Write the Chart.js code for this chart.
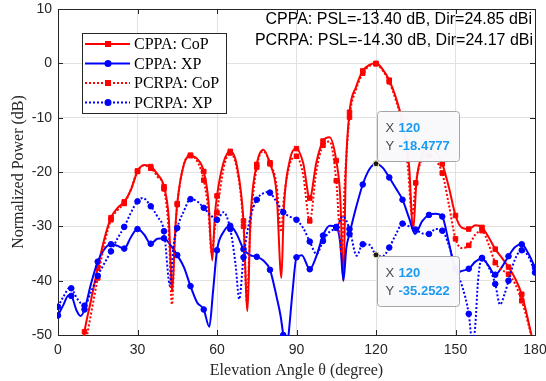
<!DOCTYPE html>
<html><head><meta charset="utf-8">
<script src="https://cdn.jsdelivr.net/npm/chart.js@4.4.1/dist/chart.umd.min.js"></script>
<style>html,body{margin:0;padding:0;background:#fff}#wrap{width:546px;height:381px;position:relative}</style>
</head><body><div id="wrap"><canvas id="c" width="546" height="381"></canvas></div>
<script>
// ---------- data ----------
const xTicks = [0, 30, 60, 90, 120, 150, 180];
const yTicks = [10, 0, -10, -20, -30, -40, -50];
const seriesNames = ['CPPA: CoP', 'CPPA: XP', 'PCRPA: CoP', 'PCRPA: XP'];

const cppaCoPAngle = [5,9.5,10,12.5,15,17.5,20,22.5,25,27.5,30,32.5,35,37.5,40,41.8,43.1,44.2,45,47.5,50,52.5,55,56.8,58.2,59.2,60,62.5,65,67.5,70,71.5,72.6,75,77.5,80,82.5,84.3,85.2,87.5,90,92.5,95,97.5,100,102.5,105,106.5,107.7,108.6,110,112.5,115,117.5,120,122.5,125,127.5,130,132.5,134,135.3,137.5,140,142.5,145,147.5,150,152.5,155,157.5,160,162.5,165,167.5,170,172.5,175,177.5,180];
const cppaCoPVal = [-60,-51.2,-49.4,-43.5,-37.6,-32.3,-28.4,-26.6,-25.5,-23.3,-19.9,-18.7,-19.0,-20.4,-22.7,-28.5,-42.0,-31,-25.8,-18.6,-17.0,-17.6,-19.9,-25.5,-36.3,-28,-24.4,-18.2,-16.2,-18.8,-29,-45.6,-29,-18.6,-15.9,-18.5,-24,-39.5,-27,-17.8,-15.7,-18.3,-24.8,-18.2,-14.3,-13.6,-17.9,-24.5,-40,-20,-9.0,-4.3,-1.4,-0.3,0,-1.1,-3.1,-6.3,-10.8,-19,-30.8,-21.6,-16.8,-15.6,-16.2,-18.5,-22.8,-28,-30.3,-30.5,-29.8,-30.2,-32,-34.2,-35.8,-37.5,-39.6,-42.5,-47.5,-53];

const cppaXPAngle = [0,2,4,5,7,8.5,10,12.5,15,17.5,20,22.5,25,27.5,30,32.5,35,37.5,40,42.5,45,47.5,50,52.5,55,57.1,58.5,60,62.5,65,67.5,70,72.5,75,77.5,80,82.5,84,85,86,87,88.5,90,92,95,97.5,100,102.5,105,106.5,107.7,108.8,110,112.5,115,117.5,120,122.5,125,127.5,130,132.5,134.7,137.5,140,142.5,145,147.5,150.5,152.5,155,157.5,160,162.5,165,167.5,170,172.5,175,177.5,180];
const cppaXPVal = [-46.4,-44.5,-42.7,-42.8,-45.5,-46.5,-45.3,-40.5,-36.5,-34.2,-33.3,-33.6,-34.1,-32,-30.5,-31.5,-33.2,-32.3,-32.2,-33.5,-35.3,-37.5,-41.0,-44,-45.3,-48.5,-42,-34.4,-31,-29.9,-31.5,-34.2,-35.3,-35.6,-36.3,-38.0,-43,-46.5,-50,-54,-50,-42,-35.7,-35.3,-37.9,-35.5,-31.7,-29.9,-30.1,-33,-40,-34,-31.4,-26.5,-22.3,-19.5,-18.4777,-19.2,-21.0,-23,-25.1,-28.5,-31.4,-29,-27.9,-27.7,-28.2,-33,-38.5,-38.2,-37.8,-36.5,-35.9,-37.3,-38.9,-37.5,-35.5,-33.8,-33.3,-35,-37.6];

const pcrpaCoPAngle = [5,10,11,12.5,15,17.5,20,22.5,25,27.5,30,32.5,35,37.5,40,41.8,43,44.1,45,47.5,50,52.5,55,56.8,58,59,60,62.5,65,67.5,70,71.3,72.5,75,77.5,80,82.5,84.2,85.2,87.5,90,92.5,95,97.5,100,102.5,105,107,108.2,110,112.5,115,117.5,120,122.5,125,127.5,130,132,133.6,135,137.5,140,142.5,145,147.5,150,152.5,155,157.5,160,162.5,165,167.5,170,172.5,175,177.5,180];
const pcrpaCoPVal = [-62,-52.5,-50,-46,-39.5,-33.2,-28.8,-27,-25.8,-23.2,-19.8,-18.8,-19.3,-20.8,-23.1,-31,-44.4,-32,-26,-18.6,-16.9,-18,-21.5,-27.5,-35.1,-31,-27.5,-19.3,-16.5,-19.5,-30,-43.8,-31,-19.1,-16.2,-18.3,-22.5,-31,-25,-18.5,-17.1,-20.5,-29.0,-19.8,-15.1,-14.4,-21.6,-35,-22,-9.9,-4.8,-1.8,-0.5,-0.1,-1.3,-3.4,-6.8,-11.5,-19,-28,-22,-17.6,-17,-17.8,-20.2,-26,-32.3,-34,-33.5,-31.5,-30.8,-33.3,-36.7,-38,-38.8,-40.6,-43.7,-48,-53];

const pcrpaXPAngle = [0,2,4.5,5,7.5,10,12.5,15,17.5,20,22.5,25,27.5,30,32,35,37.5,40,42.3,43.5,45,47.5,50,52.5,55,57.5,60,62.4,65,67,68.4,70,72.5,75,77.5,79.4,80,82.5,85,87.5,90,92.5,95,97.6,100,102.5,105,107.5,110,112.7,115,117.5,120,122.5,125,127.5,130,132.5,135,137.5,140,142.5,145,147.5,150,152.5,155,156.5,157.5,158.5,160,162.5,165,166.8,168.5,170,172.5,175,177.5,180];
const pcrpaXPVal = [-44.8,-43,-41.3,-41.4,-43.5,-44.6,-42,-39.1,-36.8,-34.6,-32.2,-30.1,-27.5,-25.4,-24.8,-26.3,-28.2,-30.9,-41,-34,-30.3,-27.2,-25.0,-25.4,-26.6,-27.9,-28.8,-27.4,-30.5,-37,-43.4,-35.7,-28.5,-25.1,-23.9,-23.7,-23.8,-25.5,-27.4,-28.2,-28.8,-30.3,-32.8,-35.1,-32.7,-31,-30.3,-28.2,-30.5,-35.4,-33.3,-33.4,-35.2522,-35.5,-33.9,-31.5,-29.5,-30,-30.6,-31.3,-31.4,-30.5,-30.8,-33.5,-37.8,-41,-46.1,-52,-48,-40,-35.8,-37.5,-40.6,-44.4,-42.5,-40,-36,-34.4,-35.5,-38.5];

const tipX = [120, 120];
const tipY = [-18.4777, -35.2522];
const summaryLines = ['CPPA: PSL=-13.40 dB, Dir=24.85 dBi', 'PCRPA: PSL=-14.30 dB, Dir=24.17 dBi'];

// ---------- helpers ----------
const toXY = (a, v) => a.map((x, i) => ({x: x, y: v[i]}));
const onMarker = ctx => (ctx.raw && Math.abs(ctx.raw.x % 5) < 1e-9);
const RED = '#ff0000', BLUE = '#0000ff', INK = '#262626';

function mkSeries(label, a, v, color, dashed, square) {
  return {
    label: label, data: toXY(a, v),
    borderColor: color, backgroundColor: color,
    borderWidth: 2, borderDash: dashed ? [2, 2] : [],
    cubicInterpolationMode: 'monotone',
    pointStyle: square ? 'rect' : 'circle',
    pointRadius: ctx => onMarker(ctx) ? (square ? 3.2 : 2.8) : 0,
    pointBorderWidth: 1, pointBorderColor: color, pointBackgroundColor: color,
    clip: 1
  };
}

const datasets = [
  mkSeries(seriesNames[0], cppaCoPAngle, cppaCoPVal, RED, false, true),
  mkSeries(seriesNames[1], cppaXPAngle, cppaXPVal, BLUE, false, false),
  mkSeries(seriesNames[2], pcrpaCoPAngle, pcrpaCoPVal, RED, true, true),
  mkSeries(seriesNames[3], pcrpaXPAngle, pcrpaXPVal, BLUE, true, false),
  { label: 'tips', data: toXY(tipX, tipY), showLine: false,
    pointRadius: 3, pointBorderWidth: 1, pointBackgroundColor: '#1a1a1a',
    pointBorderColor: '#fff7b0', borderColor: '#1a1a1a', clip: false }
];
datasets.forEach((d, i) => d.order = datasets.length - i);

const decor = {
  id: 'decor',
  afterDatasetsDraw(chart) {
    const ctx = chart.ctx, a = chart.chartArea;
    const xs = chart.scales.x, ys = chart.scales.y;
    ctx.save();
    // box top/right + inward ticks
    ctx.strokeStyle = INK; ctx.lineWidth = 1;
    ctx.beginPath();
    ctx.moveTo(a.left, a.top + 0.5); ctx.lineTo(a.right + 0.5, a.top + 0.5);
    ctx.moveTo(a.right + 0.5, a.top); ctx.lineTo(a.right + 0.5, a.bottom);
    xTicks.forEach(t => {
      const px = Math.round(xs.getPixelForValue(t)) + 0.5;
      ctx.moveTo(px, a.bottom); ctx.lineTo(px, a.bottom - 5);
      ctx.moveTo(px, a.top); ctx.lineTo(px, a.top + 5);
    });
    yTicks.forEach(t => {
      const py = Math.round(ys.getPixelForValue(t)) + 0.5;
      ctx.moveTo(a.left, py); ctx.lineTo(a.left + 5, py);
      ctx.moveTo(a.right, py); ctx.lineTo(a.right - 5, py);
    });
    ctx.stroke();

    // summary text
    ctx.fillStyle = '#000';
    ctx.font = '16px "Liberation Sans", Arial, sans-serif';
    ctx.textAlign = 'right'; ctx.textBaseline = 'middle';
    ctx.fillText(summaryLines[0], 532, 20);
    ctx.fillText(summaryLines[1], 533, 41);

    // legend
    const L = {x: 82.5, y: 33.5, w: 144, h: 80};
    ctx.fillStyle = '#fff'; ctx.fillRect(L.x, L.y, L.w, L.h);
    ctx.strokeStyle = INK; ctx.lineWidth = 1; ctx.setLineDash([]);
    ctx.strokeRect(L.x, L.y, L.w, L.h);
    for (let i = 0; i < 4; i++) {
      const d = chart.data.datasets[i];
      const y = 44 + i * 19.5;
      ctx.strokeStyle = d.borderColor; ctx.lineWidth = 2;
      ctx.setLineDash(d.borderDash || []);
      ctx.beginPath(); ctx.moveTo(85, y); ctx.lineTo(130, y); ctx.stroke();
      ctx.setLineDash([]);
      ctx.fillStyle = d.borderColor;
      if (d.pointStyle === 'rect') { ctx.fillRect(105, y - 3, 6, 6); }
      else { ctx.beginPath(); ctx.arc(108, y, 3.5, 0, Math.PI * 2); ctx.fill(); }
      ctx.fillStyle = '#000';
      ctx.font = '16px "Liberation Serif", "Times New Roman", serif';
      ctx.textAlign = 'left'; ctx.textBaseline = 'middle';
      ctx.fillText(d.label, 134, y + 1);
    }

    // data tips
    tipX.forEach((tx, i) => {
      const px = xs.getPixelForValue(tx), py = ys.getPixelForValue(tipY[i]);
      const w = 82, h = 50;
      const bx = Math.round(px) + 1.5;
      const by = i === 0 ? Math.round(py) - 2.5 - h : Math.round(py) + 1.5;
      ctx.fillStyle = 'rgba(249,249,252,0.97)';
      ctx.strokeStyle = '#a6a6a6'; ctx.lineWidth = 1;
      ctx.beginPath();
      if (ctx.roundRect) ctx.roundRect(bx, by, w, h, 3); else ctx.rect(bx, by, w, h);
      ctx.fill(); ctx.stroke();
      ctx.textAlign = 'left'; ctx.textBaseline = 'middle';
      ctx.font = '13px "Liberation Sans", Arial, sans-serif';
      ctx.fillStyle = '#4a4a4a';
      ctx.fillText('X', bx + 8, by + 16.5);
      ctx.fillText('Y', bx + 8, by + 35);
      ctx.font = 'bold 13px "Liberation Sans", Arial, sans-serif';
      ctx.fillStyle = '#1a9bf2';
      ctx.fillText(String(tx), bx + 21, by + 16.5);
      ctx.fillText(String(tipY[i]), bx + 21, by + 35);
    });
    ctx.restore();
  }
};

new Chart(document.getElementById('c'), {
  type: 'line',
  data: { datasets: datasets },
  options: {
    responsive: false, animation: false, devicePixelRatio: 1, events: [],
    layout: { padding: { top: 9, right: 11, left: 0, bottom: 0 } },
    plugins: { legend: { display: false }, tooltip: { enabled: false } },
    scales: {
      x: {
        type: 'linear', min: 0, max: 180,
        afterBuildTicks: s => { s.ticks = xTicks.map(v => ({value: v})); },
        afterFit: s => { s.height = 46; s.paddingLeft = 0; s.paddingRight = 0; },
        ticks: { autoSkip: false, maxRotation: 0, padding: 7, color: INK,
                 font: { family: '"Liberation Sans", Arial, sans-serif', size: 14 } },
        grid: { color: '#e2e2e2', drawTicks: false, lineWidth: 1 },
        border: { color: INK, width: 1 },
        title: { display: true, text: 'Elevation Angle θ (degree)', color: INK,
                 font: { family: '"Liberation Serif", "Times New Roman", serif', size: 16 },
                 padding: { top: 0, bottom: 1 } }
      },
      y: {
        type: 'linear', min: -50, max: 10,
        afterBuildTicks: s => { s.ticks = yTicks.slice().reverse().map(v => ({value: v})); },
        afterFit: s => { s.width = 58; s.paddingTop = 0; s.paddingBottom = 0; },
        ticks: { autoSkip: false, padding: 6, color: INK,
                 font: { family: '"Liberation Sans", Arial, sans-serif', size: 14 } },
        grid: { color: '#e2e2e2', drawTicks: false, lineWidth: 1 },
        border: { color: INK, width: 1 },
        title: { display: true, text: 'Normalized Power (dB)', color: INK,
                 font: { family: '"Liberation Serif", "Times New Roman", serif', size: 16 },
                 padding: { top: 9, bottom: 0 } }
      }
    }
  },
  plugins: [decor]
});
</script></body></html>
